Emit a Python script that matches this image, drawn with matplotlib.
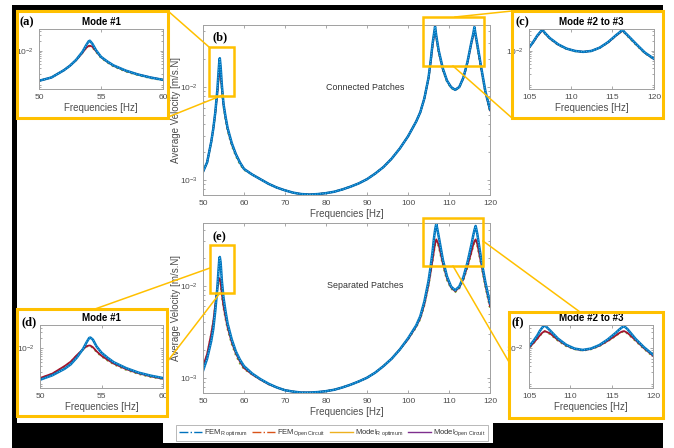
import numpy as np
import matplotlib
matplotlib.use("Agg")
import matplotlib.pyplot as plt
from matplotlib.patches import Rectangle
from matplotlib.lines import Line2D
from matplotlib.ticker import FixedLocator, LogLocator, NullFormatter

plt.rcParams['font.family'] = ['Liberation Sans', 'DejaVu Sans']
plt.rcParams['mathtext.fontset'] = 'custom'
plt.rcParams['mathtext.rm'] = 'Liberation Sans'
plt.rcParams['mathtext.it'] = 'Liberation Sans:italic'

W, H = 674, 448

# frequency grid [Hz]
freq = [50, 51, 52, 52.5, 53, 53.5, 53.8, 54.0, 54.1, 54.3, 54.6, 55, 55.5, 56, 57, 58, 59, 60,
        62, 64, 66, 68, 70, 72, 74, 76, 78, 80, 82, 84, 86, 88, 90, 92, 94, 96, 98, 100,
        102, 103, 104, 105, 105.5, 106, 106.3, 106.6, 106.9, 107.5, 108.5, 109.5, 110.5,
        111.5, 112.5, 113.5, 114.5, 115.5, 115.9, 116.2, 116.5, 116.9, 117.9, 118.9, 120]

# log10 of average velocity [m/s.N]
# connected patches
conn_r = [-2.91, -2.81, -2.59, -2.45, -2.27, -2.03, -1.83, -1.71, -1.69, -1.78, -1.98, -2.18, -2.32, -2.44, -2.60, -2.72, -2.81, -2.88,
          -2.94, -2.99, -3.04, -3.08, -3.11, -3.135, -3.15, -3.155, -3.15, -3.14, -3.125, -3.10, -3.07, -3.035, -2.99, -2.93, -2.86, -2.77, -2.66, -2.53,
          -2.37, -2.27, -2.12, -1.90, -1.73, -1.53, -1.44, -1.35, -1.45, -1.61, -1.80, -1.93, -2.00,
          -2.03, -2.00, -1.90, -1.73, -1.51, -1.43, -1.355, -1.44, -1.54, -1.80, -2.05, -2.24]
conn_oc = [-2.91, -2.81, -2.59, -2.45, -2.28, -2.06, -1.91, -1.85, -1.84, -1.87, -2.01, -2.19, -2.33, -2.45, -2.61, -2.72, -2.81, -2.88,
           -2.94, -2.99, -3.04, -3.08, -3.11, -3.135, -3.15, -3.155, -3.15, -3.14, -3.125, -3.10, -3.07, -3.035, -2.99, -2.93, -2.86, -2.77, -2.66, -2.53,
           -2.37, -2.27, -2.12, -1.91, -1.74, -1.55, -1.46, -1.37, -1.46, -1.62, -1.81, -1.93, -2.00,
           -2.03, -2.00, -1.90, -1.74, -1.52, -1.45, -1.375, -1.45, -1.55, -1.81, -2.06, -2.25]
conn_oc_model = [-2.91, -2.81, -2.59, -2.45, -2.28, -2.06, -1.91, -1.86, -1.855, -1.89, -2.03, -2.21, -2.35, -2.47, -2.63, -2.74, -2.83, -2.89,
                 -2.94, -2.99, -3.04, -3.08, -3.11, -3.135, -3.15, -3.155, -3.15, -3.14, -3.125, -3.10, -3.07, -3.035, -2.99, -2.93, -2.86, -2.77, -2.66, -2.53,
                 -2.37, -2.27, -2.12, -1.91, -1.74, -1.55, -1.46, -1.37, -1.47, -1.63, -1.82, -1.94, -2.01,
                 -2.035, -2.005, -1.905, -1.745, -1.525, -1.45, -1.38, -1.46, -1.57, -1.83, -2.07, -2.26]
# separated patches
sep_r = [-2.92, -2.79, -2.60, -2.47, -2.27, -2.02, -1.82, -1.70, -1.69, -1.75, -1.95, -2.13, -2.28, -2.41, -2.58, -2.71, -2.80, -2.87,
         -2.95, -3.01, -3.06, -3.10, -3.13, -3.145, -3.155, -3.155, -3.15, -3.14, -3.125, -3.10, -3.07, -3.035, -2.995, -2.94, -2.87, -2.79, -2.69, -2.57,
         -2.43, -2.33, -2.17, -1.95, -1.80, -1.63, -1.50, -1.40, -1.33, -1.47, -1.72, -1.90, -2.01,
         -2.05, -2.01, -1.91, -1.75, -1.55, -1.46, -1.40, -1.355, -1.44, -1.73, -1.97, -2.19]
sep_oc = [-2.87, -2.74, -2.52, -2.39, -2.20, -2.03, -1.94, -1.92, -1.925, -1.97, -2.09, -2.22, -2.34, -2.45, -2.61, -2.73, -2.82, -2.89,
          -2.96, -3.015, -3.065, -3.10, -3.13, -3.145, -3.155, -3.155, -3.15, -3.14, -3.125, -3.10, -3.07, -3.035, -2.995, -2.94, -2.87, -2.79, -2.69, -2.58,
          -2.44, -2.35, -2.20, -1.99, -1.86, -1.72, -1.63, -1.55, -1.50, -1.56, -1.76, -1.92, -2.02,
          -2.06, -2.02, -1.93, -1.79, -1.63, -1.56, -1.52, -1.50, -1.55, -1.77, -2.00, -2.22]
sep_oc_model = [-2.88, -2.75, -2.53, -2.40, -2.21, -2.04, -1.95, -1.935, -1.94, -1.99, -2.11, -2.24, -2.36, -2.47, -2.63, -2.75, -2.84, -2.90,
                -2.96, -3.015, -3.065, -3.10, -3.13, -3.145, -3.155, -3.155, -3.15, -3.14, -3.125, -3.10, -3.07, -3.035, -2.995, -2.94, -2.87, -2.79, -2.69, -2.58,
                -2.45, -2.36, -2.21, -2.00, -1.87, -1.73, -1.64, -1.56, -1.51, -1.58, -1.78, -1.94, -2.03,
                -2.07, -2.03, -1.94, -1.80, -1.64, -1.57, -1.53, -1.51, -1.57, -1.79, -2.02, -2.24]

legend_labels = [r'FEM$_{\mathrm{R\ optimum}}$', r'FEM$_{\mathrm{Open\ Circuit}}$',
                 r'Model$_{\mathrm{R\ optimum}}$', r'Model$_{\mathrm{Open\ Circuit}}$']

YEL = '#FFC000'
GRAY = '#4d4d4d'


def rect(x0, y0, x1, y1):
    return [x0 / W, 1 - y1 / H, (x1 - x0) / W, (y1 - y0) / H]


def draw_curves(ax, r, oc, oc_model):
    f = np.array(freq)
    ax.plot(f, 10 ** np.array(oc_model), color='#77AC30', lw=1.4, ls=':')
    ax.plot(f, 10 ** np.array(oc), color='#A2142F', lw=1.3)
    ax.plot(f, 10 ** np.array(r), color='#0072BD', lw=1.8)
    ax.plot(f, 10 ** np.array(r), color='#4DBEEE', lw=0.7, ls=':')


def style(ax, xlim, xticks, ylim, yticks):
    ax.set_yscale('log')
    ax.set_xlim(xlim)
    ax.set_ylim(ylim)
    ax.set_xticks(xticks)
    ax.yaxis.set_major_locator(FixedLocator(yticks))
    ax.yaxis.set_minor_locator(LogLocator(subs=np.arange(2, 10)))
    ax.yaxis.set_minor_formatter(NullFormatter())
    ax.tick_params(which='both', direction='in', top=True, right=True, labelsize=6,
                   color='#9a9a9a', labelcolor=GRAY, width=0.6, pad=3.5)
    ax.tick_params(which='major', length=2.5)
    ax.tick_params(which='minor', length=1.5)
    for s in ax.spines.values():
        s.set_color('#a0a0a0')
        s.set_linewidth(0.7)


fig = plt.figure(figsize=(W / 100, H / 100), dpi=100)

# black frame of the pasted picture
for x0, y0, x1, y1 in [(12, 5, 663, 10), (12, 5, 17, 448), (12, 423, 163, 448),
                       (493, 423, 663, 448), (163, 443, 493, 448)]:
    fig.add_artist(Rectangle((x0 / W, 1 - y1 / H), (x1 - x0) / W, (y1 - y0) / H,
                             transform=fig.transFigure, fc='black', ec='none', zorder=0))

ylim_b = (10 ** -3.16, 10 ** -1.333)
ylim_e = (10 ** -3.16, 10 ** -1.323)

panels = [
    # rect, data, xlim, xticks, ylim, yticks, main?
    (rect(203, 25, 490, 195), (conn_r, conn_oc, conn_oc_model), (50, 120), range(50, 121, 10), ylim_b, [1e-3, 1e-2], True),
    (rect(203, 223, 490, 393), (sep_r, sep_oc, sep_oc_model), (50, 120), range(50, 121, 10), ylim_e, [1e-3, 1e-2], True),
    (rect(39, 29, 163, 89), (conn_r, conn_oc, conn_oc_model), (50, 60), [50, 55, 60], ylim_b, [1e-2], False),
    (rect(529, 29, 654, 89), (conn_r, conn_oc, conn_oc_model), (105, 120), [105, 110, 115, 120], ylim_b, [1e-2], False),
    (rect(40, 325, 163, 388), (sep_r, sep_oc, sep_oc_model), (50, 60), [50, 55, 60], ylim_e, [1e-2], False),
    (rect(529, 325, 653, 388), (sep_r, sep_oc, sep_oc_model), (105, 120), [105, 110, 115, 120], ylim_e, [1e-2], False),
]
titles = [None, None, 'Mode #1', 'Mode #2 to #3', 'Mode #1', 'Mode #2 to #3']

for (r, data, xlim, xt, yl, yt, main), title in zip(panels, titles):
    ax = fig.add_axes(r)
    draw_curves(ax, *data)
    style(ax, xlim, xt, yl, yt)
    ax.set_xlabel('Frequencies [Hz]', fontsize=7, color=GRAY, labelpad=1.5)
    if main:
        ax.set_ylabel('Average Velocity [m/s.N]', fontsize=7, color=GRAY)
        ax.yaxis.set_label_coords(-0.075, 0.5)
    if title:
        ax.set_title(title, fontsize=7, fontweight='bold', pad=3)

fig.text(365 / W, 1 - 87 / H, 'Connected Patches', fontsize=6.4, color='#333333', ha='center', va='center')
fig.text(365 / W, 1 - 286 / H, 'Separated Patches', fontsize=6.4, color='#333333', ha='center', va='center')

for lab, x, y in [('(a)', 20, 22), ('(b)', 213, 37), ('(c)', 515, 22),
                  ('(d)', 21, 322), ('(e)', 213, 237), ('(f)', 512, 322)]:
    fig.text(x / W, 1 - y / H, lab, family='Liberation Serif', fontweight='bold',
             fontsize=9, ha='left', va='center')

# yellow zoom boxes and connectors
boxes = [(17, 11, 168, 118, 2.2), (512, 11, 663, 118, 2.2), (17, 309, 167, 416, 2.2),
         (509, 312, 663, 418, 2.2), (209, 47, 234, 96, 1.8), (423, 17, 484, 66, 1.8),
         (210, 245, 234, 293, 1.8), (423, 218, 483, 266, 1.8)]
for x0, y0, x1, y1, lw in boxes:
    fig.add_artist(Rectangle((x0 / W, 1 - y1 / H), (x1 - x0) / W, (y1 - y0) / H,
                             transform=fig.transFigure, fill=False, ec=YEL, lw=lw, zorder=5))
links = [(168, 11, 209, 47), (168, 117, 223, 95), (455, 17, 512, 11), (453, 66, 512, 118),
         (95, 309, 210, 268), (167, 362, 220, 293), (483, 241, 580, 312), (453, 266, 509, 362)]
for x0, y0, x1, y1 in links:
    fig.add_artist(Line2D([x0 / W, x1 / W], [1 - y0 / H, 1 - y1 / H], transform=fig.transFigure,
                          color=YEL, lw=1.1, zorder=5))

handles = [Line2D([], [], color='#0072BD', ls='-.', lw=1),
           Line2D([], [], color='#D95319', ls='-.', lw=1),
           Line2D([], [], color='#EDB120', lw=1),
           Line2D([], [], color='#7E2F8E', lw=1)]
leg = fig.legend(handles, legend_labels, loc='center', bbox_to_anchor=(332 / W, 1 - 433 / H),
                 ncol=4, fontsize=5.5, frameon=True, fancybox=False, edgecolor='#999999',
                 handlelength=3.0, columnspacing=0.6, borderpad=0.3, handletextpad=0.3)
leg.get_frame().set_linewidth(0.6)
for t in leg.get_texts():
    t.set_color('#333333')

fig.savefig('out.png', dpi=100)
